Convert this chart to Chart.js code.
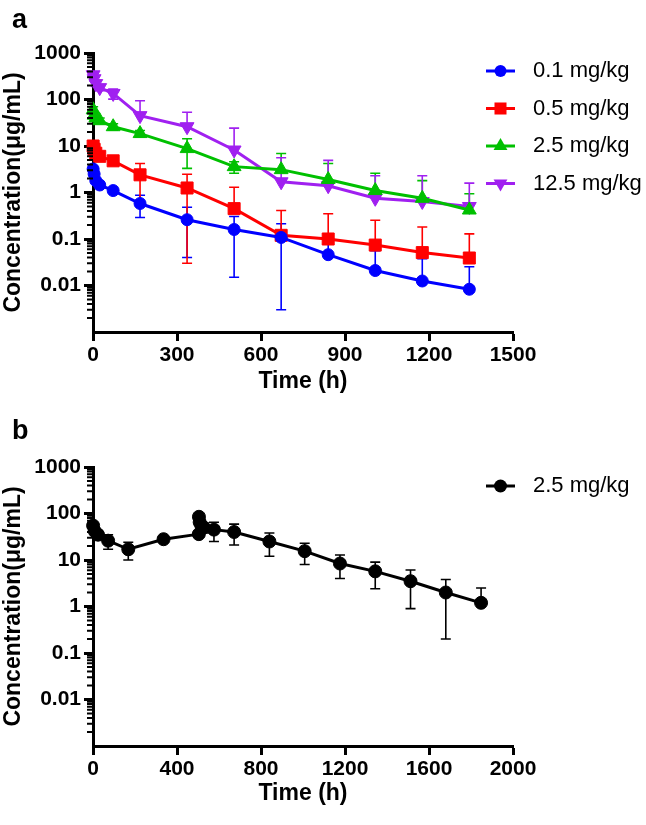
<!DOCTYPE html>
<html>
<head>
<meta charset="utf-8">
<script src="https://cdn.jsdelivr.net/npm/chart.js@4.4.1/dist/chart.umd.min.js"></script>
<style>
  html, body { margin: 0; padding: 0; background: #fff; }
  canvas { display: block; }
</style>
</head>
<body>
<canvas id="chartA" width="646" height="413"></canvas>
<canvas id="chartB" width="646" height="412"></canvas>
<script>
// ---- panel a: four doses ----
const timesA = [0.5, 4, 10, 24, 72, 168, 336, 504, 672, 840, 1008, 1176, 1344]
const conc01 = [3.2, 2.5, 1.8, 1.45, 1.1, 0.58, 0.26, 0.16, 0.108, 0.046, 0.021, 0.0125, 0.0083]
const sd01 = [0.3, 0.3, 0.2, 0.15, 0.1, 0.29, 0.22, 0.145, 0.105, 0.052, 0.035, 0.025, 0.017]
const conc05 = [10, 8.5, 7, 6, 4.8, 2.4, 1.25, 0.45, 0.12, 0.1, 0.074, 0.051, 0.039]
const sd05 = [1.5, 1.2, 1, 0.8, 0.6, 1.8, 1.22, 0.85, 0.29, 0.25, 0.18, 0.13, 0.09]
const conc25 = [60, 46, 40, 35, 26, 18.5, 8.8, 3.6, 3.1, 1.9, 1.1, 0.75, 0.42]
const sd25 = [10, 8, 6, 5, 4, 3, 5.5, 1, 3.8, 2.3, 1.5, 1.05, 0.52]
const conc125 = [340, 280, 220, 180, 135, 45, 26, 8.2, 1.7, 1.4, 0.75, 0.64, 0.5]
const sd125 = [40, 30, 30, 25, 33, 49, 27, 16, 3.9, 3.5, 1.55, 1.66, 1.09]
const dosesA = ['0.1 mg/kg', '0.5 mg/kg', '2.5 mg/kg', '12.5 mg/kg']
const xTicksA = [0, 300, 600, 900, 1200, 1500]

// ---- panel b: 2.5 mg/kg, repeat dose ----
const timesB = [0.5, 8, 24, 72, 168, 336, 504, 504.5, 508, 516, 528, 576, 672, 840, 1008, 1176, 1344, 1512, 1680, 1848]
const concB = [55, 42, 35, 26, 17, 28, 36, 85, 65, 55, 50, 45, 40, 25, 15.5, 8.4, 5.7, 3.5, 2.0, 1.2]
const sdB = [8, 7, 8, 9, 7, 2, 4, 10, 10, 10, 12, 20, 19, 13, 7.5, 4.4, 3.3, 2.6, 1.8, 1.3]
const doseB = '2.5 mg/kg'
const xTicksB = [0, 400, 800, 1200, 1600, 2000]

const yTicks = [0.01, 0.1, 1, 10, 100, 1000]
const yMin = 0.001
const yMax = 1000

const FONT = '"Liberation Sans", Arial, sans-serif'

function drawMarker (ctx, style, x, y, r, rotation) {
  ctx.beginPath()
  if (style === 'rect') {
    const s = r * Math.SQRT1_2
    ctx.rect(x - s, y - s, 2 * s, 2 * s)
  } else if (style === 'triangle') {
    let rad = (rotation || 0) * Math.PI / 180
    ctx.moveTo(x + Math.sin(rad) * r, y - Math.cos(rad) * r)
    rad += 2 * Math.PI / 3
    ctx.lineTo(x + Math.sin(rad) * r, y - Math.cos(rad) * r)
    rad += 2 * Math.PI / 3
    ctx.lineTo(x + Math.sin(rad) * r, y - Math.cos(rad) * r)
    ctx.closePath()
  } else {
    ctx.arc(x, y, r, 0, Math.PI * 2)
  }
  ctx.fill()
}

// mean + SD bars, lower half only when it stays positive
const errorBars = {
  id: 'errorBars',
  beforeDatasetsDraw (chart) {
    const { ctx } = chart
    const y = chart.scales.y
    chart.data.datasets.forEach((ds, i) => {
      const meta = chart.getDatasetMeta(i)
      ctx.save()
      ctx.strokeStyle = ds.borderColor
      ctx.lineWidth = 1.6
      meta.data.forEach((pt, j) => {
        const mean = ds.data[j].y
        const sd = ds.sd[j]
        const top = y.getPixelForValue(mean + sd)
        const lo = mean - sd
        const bottom = lo > 0 ? y.getPixelForValue(Math.max(lo, y.min)) : pt.y
        ctx.beginPath()
        ctx.moveTo(pt.x, top)
        ctx.lineTo(pt.x, bottom)
        ctx.moveTo(pt.x - 5, top)
        ctx.lineTo(pt.x + 5, top)
        if (lo > 0) {
          ctx.moveTo(pt.x - 5, bottom)
          ctx.lineTo(pt.x + 5, bottom)
        }
        ctx.stroke()
      })
      ctx.restore()
    })
  }
}

const minorTicks = {
  id: 'minorTicks',
  afterDraw (chart) {
    const { ctx } = chart
    const y = chart.scales.y
    ctx.save()
    ctx.strokeStyle = '#000'
    ctx.lineWidth = 2
    ctx.beginPath()
    for (let e = Math.log10(y.min); e < Math.log10(y.max); e++) {
      for (let k = 2; k < 10; k++) {
        const py = y.getPixelForValue(k * Math.pow(10, e))
        ctx.moveTo(y.right - 6, py)
        ctx.lineTo(y.right, py)
      }
    }
    ctx.stroke()
    ctx.restore()
  }
}

const sideLegend = {
  id: 'sideLegend',
  afterDraw (chart, args, opts) {
    const { ctx } = chart
    chart.data.datasets.forEach((ds, i) => {
      const y = opts.top + i * opts.gap
      ctx.save()
      ctx.strokeStyle = ds.borderColor
      ctx.lineWidth = 3
      ctx.beginPath()
      ctx.moveTo(opts.x, y)
      ctx.lineTo(opts.x + 29, y)
      ctx.stroke()
      ctx.fillStyle = ds.backgroundColor
      drawMarker(ctx, ds.pointStyle, opts.x + 14.5, y, ds.pointRadius, ds.rotation)
      ctx.fillStyle = '#000'
      ctx.font = '22px ' + FONT
      ctx.textBaseline = 'middle'
      ctx.fillText(ds.label, opts.x + 47, y)
      ctx.restore()
    })
  }
}

const panelTag = {
  id: 'panelTag',
  afterDraw (chart, args, opts) {
    const { ctx } = chart
    ctx.save()
    ctx.fillStyle = '#000'
    ctx.font = 'bold 27px ' + FONT
    ctx.textBaseline = 'alphabetic'
    ctx.fillText(opts.text, 12, opts.y)
    ctx.restore()
  }
}

function series (label, times, values, sd, color, style, radius, rotation) {
  return {
    label,
    data: times.map((t, i) => ({ x: t, y: values[i] })),
    sd,
    borderColor: color,
    backgroundColor: color,
    borderWidth: 3,
    pointStyle: style,
    pointRadius: radius,
    pointHoverRadius: radius,
    pointBorderWidth: 1,
    rotation: rotation || 0,
    tension: 0,
    clip: false
  }
}

function buildChart (canvas, cfg) {
  const tickFont = { family: FONT, size: 21, weight: 'bold' }
  const titleFont = { family: FONT, size: 23, weight: 'bold' }
  return new Chart(canvas, {
    type: 'line',
    data: { datasets: cfg.datasets },
    options: {
      responsive: false,
      animation: false,
      events: [],
      layout: { padding: { left: 0, top: cfg.top, right: 133, bottom: 0 } },
      plugins: {
        legend: { display: false },
        tooltip: { enabled: false },
        sideLegend: { x: 486, top: cfg.legendTop, gap: 37.5 },
        panelTag: { text: cfg.tag, y: cfg.tagY }
      },
      scales: {
        x: {
          type: 'linear',
          min: cfg.xTicks[0],
          max: cfg.xTicks[cfg.xTicks.length - 1],
          afterBuildTicks: s => { s.ticks = cfg.xTicks.map(v => ({ value: v })) },
          afterFit: s => { s.height = cfg.xHeight },
          grid: { drawOnChartArea: false, tickLength: 9, tickWidth: 3, tickColor: '#000' },
          border: { color: '#000', width: 3 },
          ticks: { color: '#000', font: tickFont, padding: 2, maxRotation: 0, autoSkip: false, callback: v => String(v) },
          title: { display: true, text: 'Time (h)', color: '#000', font: titleFont, padding: { top: 0, bottom: 18 } }
        },
        y: {
          type: 'logarithmic',
          min: yMin,
          max: yMax,
          afterBuildTicks: s => { s.ticks = yTicks.map(v => ({ value: v })) },
          afterFit: s => { s.width = 93 },
          grid: { drawOnChartArea: false, tickLength: 9, tickWidth: 3, tickColor: '#000' },
          border: { color: '#000', width: 3 },
          ticks: { color: '#000', font: tickFont, padding: 3, autoSkip: false, callback: v => String(v) },
          title: { display: true, text: 'Concentration(μg/mL)', color: '#000', font: titleFont, padding: { top: 0, bottom: 0 } }
        }
      }
    },
    plugins: [errorBars, minorTicks, sideLegend, panelTag]
  })
}

buildChart(document.getElementById('chartA'), {
  top: 53,
  xHeight: 81,
  legendTop: 71,
  tag: 'a',
  tagY: 28,
  xTicks: xTicksA,
  datasets: [
    series(dosesA[0], timesA, conc01, sd01, '#0000ff', 'circle', 6),
    series(dosesA[1], timesA, conc05, sd05, '#ff0000', 'rect', 8.5),
    series(dosesA[2], timesA, conc25, sd25, '#00c000', 'triangle', 8),
    series(dosesA[3], timesA, conc125, sd125, '#a020f0', 'triangle', 8, 180)
  ]
})

buildChart(document.getElementById('chartB'), {
  top: 54,
  xHeight: 79,
  legendTop: 73,
  tag: 'b',
  tagY: 26,
  xTicks: xTicksB,
  datasets: [
    series(doseB, timesB, concB, sdB, '#000000', 'circle', 6.5)
  ]
})
</script>
</body>
</html>
